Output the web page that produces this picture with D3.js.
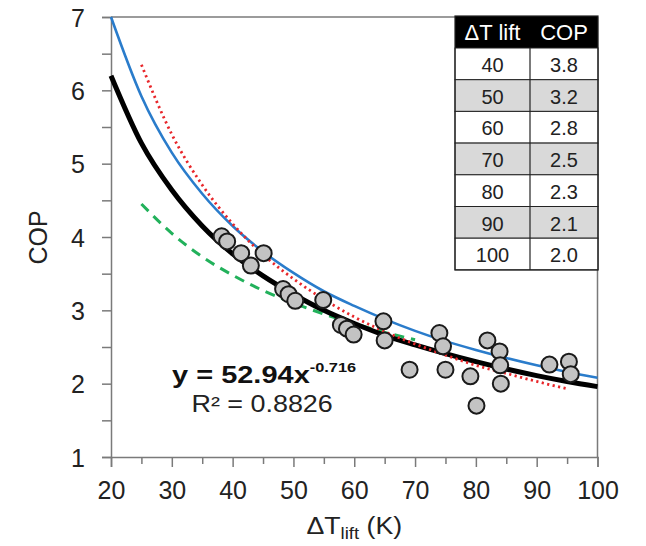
<!DOCTYPE html>
<html><head><meta charset="utf-8">
<script src="https://cdn.jsdelivr.net/npm/d3@7"></script>
<style>body{margin:0;background:#fff}svg{display:block}text{font-family:"Liberation Sans",Arial,sans-serif}</style>
</head><body><svg id="c" width="646" height="546"></svg>
<script>
// ---- data ----
const xMajorTicks = [20,30,40,50,60,70,80,90,100];
const xMinorTicks = [25,35,45,55,65,75,85,95];
const yMajorTicks = [1,2,3,4,5,6,7];
const yMinorTicks = [1.5,2.5,3.5,4.5,5.5,6.5];

const curveX  = [20,25,30,35,40,45,50,55,60,65,70,75,80,85,90,95,100];
const fitY    = [6.20,5.28,4.64,4.15,3.77,3.47,3.22,3.00,2.82,2.66,2.53,2.41,2.30,2.20,2.11,2.03,1.96];
const blueY   = [7.00,5.92,5.15,4.59,4.15,3.80,3.51,3.26,3.06,2.88,2.72,2.58,2.46,2.35,2.25,2.16,2.08];
const redX    = [25,30,35,40,45,50,55,60,65,70,75,80,85,90,95];
const redY    = [6.35,5.40,4.71,4.18,3.76,3.43,3.15,2.91,2.71,2.54,2.39,2.25,2.14,2.03,1.93];
const greenX  = [25,30,35,40,45,50,55,60,65,70];
const greenY  = [4.45,4.05,3.73,3.48,3.27,3.10,2.95,2.82,2.70,2.60];

const ptX = [38.2,39.1,41.4,45.1,43.0,48.3,49.2,50.3,54.9,57.8,58.8,59.9,64.8,65.0,69.1,74.0,74.6,75.0,79.1,80.1,81.9,83.9,84.0,84.1,92.1,95.3,95.6];
const ptY = [4.01,3.94,3.78,3.78,3.61,3.29,3.22,3.13,3.14,2.80,2.75,2.67,2.85,2.59,2.19,2.69,2.51,2.19,2.10,1.70,2.59,2.44,2.25,2.00,2.26,2.30,2.13];

const tableHeader = ["ΔT lift","COP"];
const tableLift = ["40","50","60","70","80","90","100"];
const tableCOP  = ["3.8","3.2","2.8","2.5","2.3","2.1","2.0"];

// ---- layout ----
const svg = d3.select("#c");
const L = 111, R = 597.5, T = 17, B = 457;
const x = d3.scaleLinear().domain([20,100]).range([L,R]);
const y = d3.scaleLinear().domain([1,7]).range([B,T]);
const axisCol = "#7a7a7a";

// frame
svg.append("line").attr("x1",L).attr("x2",R).attr("y1",T).attr("y2",T).attr("stroke",axisCol).attr("stroke-width",1.5);
svg.append("line").attr("x1",R).attr("x2",R).attr("y1",T).attr("y2",B).attr("stroke",axisCol).attr("stroke-width",1.5);

// y axis
const yAxis = svg.append("g").attr("transform",`translate(${L},0)`)
  .call(d3.axisLeft(y).tickValues(yMajorTicks).tickSize(9).tickPadding(17).tickFormat(d3.format("d")));
svg.append("g").attr("transform",`translate(${L},0)`)
  .call(d3.axisLeft(y).tickValues(yMinorTicks).tickSize(9).tickFormat(""))
  .select(".domain").remove();
// x axis
const xAxis = svg.append("g").attr("transform",`translate(0,${B})`)
  .call(d3.axisBottom(x).tickValues(xMajorTicks).tickSize(10).tickPadding(14).tickFormat(d3.format("d")));
svg.append("g").attr("transform",`translate(0,${B})`)
  .call(d3.axisBottom(x).tickValues(xMinorTicks).tickSize(7).tickFormat(""))
  .select(".domain").remove();
svg.selectAll(".domain").attr("stroke",axisCol).attr("stroke-width",1.5);
svg.selectAll(".tick line").attr("stroke",axisCol).attr("stroke-width",1.5);
svg.selectAll(".tick text").attr("font-size",25).attr("fill","#222")
  .attr("font-family",'"Liberation Sans",Arial,sans-serif');
yAxis.selectAll(".tick text").attr("dy","0.36em");
xAxis.selectAll(".tick text").attr("dy","0.71em");

// axis titles
svg.append("text").attr("transform","translate(47,237.5) rotate(-90)")
  .attr("text-anchor","middle").attr("font-size",25).attr("fill","#222").text("COP");
const xt = svg.append("text").attr("transform","translate(306.5,534) scale(1.16,1)")
  .attr("font-size",23).attr("fill","#222");
xt.append("tspan").text("ΔT");
xt.append("tspan").attr("font-size",16).attr("dy",5).text("lift");
xt.append("tspan").attr("dy",-5).text(" (K)");

// curves
const line = d3.line().x(d=>x(d[0])).y(d=>y(d[1])).curve(d3.curveMonotoneX);
svg.append("path").datum(d3.zip(greenX,greenY)).attr("d",line).attr("fill","none")
  .attr("stroke","#22b15b").attr("stroke-width",3).attr("stroke-dasharray","10,7");
svg.append("path").datum(d3.zip(curveX,fitY)).attr("d",line).attr("fill","none")
  .attr("stroke","#000").attr("stroke-width",5);
svg.append("path").datum(d3.zip(curveX,blueY)).attr("d",line).attr("fill","none")
  .attr("stroke","#2a7ccb").attr("stroke-width",2.6);
svg.append("path").datum(d3.zip(redX,redY)).attr("d",line).attr("fill","none")
  .attr("stroke","#e8262a").attr("stroke-width",2.8).attr("stroke-dasharray","2.2,3.4");

// points
svg.append("g").selectAll("circle").data(d3.zip(ptX,ptY)).join("circle")
  .attr("cx",d=>x(d[0])).attr("cy",d=>y(d[1])).attr("r",8)
  .attr("fill","#c3c3c3").attr("stroke","#1a1a1a").attr("stroke-width",2);

// equation
const eq = svg.append("text").attr("transform","translate(172,383) scale(1.26,1)")
  .attr("font-size",23).attr("font-weight","bold").attr("fill","#111");
eq.append("tspan").text("y = 52.94x");
eq.append("tspan").attr("font-size",13).attr("dy",-11).text("-0.716");
svg.append("text").attr("transform","translate(191.5,411.5) scale(1.17,1)")
  .attr("font-size",23).attr("fill","#222").text("R² = 0.8826");

// table
const tx0 = 455, tx1 = 530, tx2 = 598, ty0 = 16, hH = 32, rH = 31.7;
const tb = svg.append("g");
tb.append("rect").attr("x",tx0).attr("y",ty0).attr("width",tx2-tx0).attr("height",hH).attr("fill","#000");
tb.selectAll("rect.row").data(tableLift).join("rect").attr("class","row")
  .attr("x",tx0).attr("y",(d,i)=>ty0+hH+i*rH).attr("width",tx2-tx0).attr("height",rH)
  .attr("fill",(d,i)=>i%2?"#d9d9d9":"#fff").attr("stroke","#222").attr("stroke-width",1);
tb.append("line").attr("x1",tx1).attr("x2",tx1).attr("y1",ty0+hH).attr("y2",ty0+hH+7*rH).attr("stroke","#222").attr("stroke-width",1.2);
tb.append("rect").attr("x",tx0).attr("y",ty0).attr("width",tx2-tx0).attr("height",hH+7*rH)
  .attr("fill","none").attr("stroke","#222").attr("stroke-width",1.2);
tb.selectAll("text.h").data(tableHeader).join("text").attr("class","h")
  .attr("x",(d,i)=>i?(tx1+tx2)/2:(tx0+tx1)/2).attr("y",ty0+hH/2).attr("dy","0.36em")
  .attr("text-anchor","middle").attr("font-size",22).attr("fill","#fff").text(d=>d);
tb.selectAll("text.c1").data(tableLift).join("text").attr("class","c1")
  .attr("x",(tx0+tx1)/2).attr("y",(d,i)=>ty0+hH+i*rH+rH/2+1).attr("dy","0.36em")
  .attr("text-anchor","middle").attr("font-size",20).attr("fill","#222").text(d=>d);
tb.selectAll("text.c2").data(tableCOP).join("text").attr("class","c2")
  .attr("x",(tx1+tx2)/2).attr("y",(d,i)=>ty0+hH+i*rH+rH/2+1).attr("dy","0.36em")
  .attr("text-anchor","middle").attr("font-size",20).attr("fill","#222").text(d=>d);
</script></body></html>
